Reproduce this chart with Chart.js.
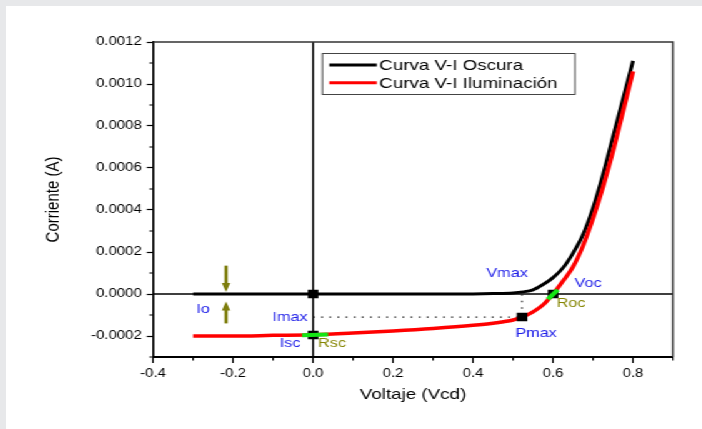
<!DOCTYPE html>
<html>
<head>
<meta charset="utf-8">
<script src="https://cdn.jsdelivr.net/npm/chart.js@4"></script>
<style>
  html, body { margin: 0; padding: 0; background: #e7e8ea; overflow: hidden; }
  #wrap { position: absolute; left: 6px; top: 6px; width: 557px; height: 423px;
          transform: scaleX(1.25); transform-origin: 0 0; background: #fff; }
</style>
</head>
<body>
<div id="wrap"><canvas id="chart" width="557" height="423"></canvas></div>
<script>
// curvas V-I (voltaje en V, corriente en A)
var voltage      = [-0.3, -0.2, -0.1, 0.0, 0.1, 0.2, 0.3, 0.4, 0.45, 0.5, 0.525, 0.55, 0.575, 0.6, 0.625, 0.65, 0.675, 0.7, 0.725, 0.75, 0.775, 0.8];
var darkCurrent  = [0, 0, 0, 0, 0, 0, 0, 0.0000005, 0.000002, 0.000005, 0.00001, 0.00002, 0.000045, 0.000078, 0.000125, 0.000195, 0.000283, 0.00041, 0.00057, 0.00075, 0.00093, 0.00111];
var lightCurrent = [-0.0002, -0.0002, -0.000197, -0.000194, -0.000186, -0.000176, -0.000164, -0.000149, -0.000139, -0.000124, -0.000108, -0.000085, -0.000052, 0, 0.000062, 0.00013, 0.00023, 0.00036, 0.00051, 0.00068, 0.00087, 0.00106];

// puntos caracteristicos: origen, Isc, Pmax, Voc
var keyVoltage = [0, 0, 0.5225, 0.6];
var keyCurrent = [0, -0.000195, -0.00011, 0];

// tramos verdes (resistencias)
var rscVoltage = [-0.0275, 0.0375];
var rscCurrent = [-0.000196, -0.000193];
var rocVoltage = [0.587, 0.612];
var rocCurrent = [-0.000025, 0.00002];

// linea punteada Imax / Vmax
var imaxVoltage = [0, 0.5225, 0.5225];
var imaxCurrent = [-0.00011, -0.00011, 0];

// etiquetas
var noteText    = ['Vmax', 'Voc', 'Pmax', 'Roc', 'Io', 'Imax', 'Isc', 'Rsc'];
var noteVoltage = [0.485, 0.6875, 0.5575, 0.645, -0.275, -0.0575, -0.0575, 0.0475];
var noteCurrent = [0.0001, 0.0000524, -0.000186, -0.000043, -0.0000714, -0.00011, -0.000233, -0.000233];
var noteColor   = ['#1f1fe8', '#1f1fe8', '#1f1fe8', '#858500', '#1f1fe8', '#1f1fe8', '#1f1fe8', '#858500'];

// flechas Io
var arrowVoltage = -0.2175;
var arrowFrom = [0.000135, -0.00014];
var arrowTo   = [0.00001, -0.000036];

var xTickValues = [-0.4, -0.2, 0.0, 0.2, 0.4, 0.6, 0.8];
var yTickValues = [-0.0002, 0.0, 0.0002, 0.0004, 0.0006, 0.0008, 0.0010, 0.0012];

var FONT = "'Liberation Sans', Arial, sans-serif";

function pts(xs, ys) {
  return xs.map(function (x, i) { return { x: x, y: ys[i] }; });
}

var extras = {
  id: 'extras',
  beforeDatasetsDraw: function (chart) {
    var ctx = chart.ctx, a = chart.chartArea;
    var xs = chart.scales.x, ys = chart.scales.y;
    ctx.save();
    ctx.strokeStyle = '#000';
    ctx.lineWidth = 1.4;
    var x0 = xs.getPixelForValue(0), y0 = ys.getPixelForValue(0);
    ctx.beginPath();
    ctx.moveTo(x0, a.top); ctx.lineTo(x0, a.bottom);
    ctx.moveTo(a.left, y0); ctx.lineTo(a.right, y0);
    ctx.stroke();
    ctx.restore();
  },
  afterDatasetsDraw: function (chart) {
    var ctx = chart.ctx, a = chart.chartArea;
    var xs = chart.scales.x, ys = chart.scales.y;
    ctx.save();

    // marco superior y derecho
    ctx.strokeStyle = '#333';
    ctx.lineWidth = 1.6;
    ctx.beginPath();
    ctx.moveTo(a.left, a.top); ctx.lineTo(a.right, a.top); ctx.lineTo(a.right, a.bottom);
    ctx.stroke();

    // ticks menores
    ctx.strokeStyle = '#000';
    ctx.lineWidth = 1.2;
    ctx.beginPath();
    var xStep = xTickValues[1] - xTickValues[0];
    xTickValues.forEach(function (v) {
      var m = v + xStep / 2;
      if (m <= xs.max + 1e-9) {
        var px = xs.getPixelForValue(m);
        ctx.moveTo(px, a.bottom); ctx.lineTo(px, a.bottom + 3.5);
      }
    });
    var yStep = yTickValues[1] - yTickValues[0];
    [yTickValues[0] - yStep / 2].concat(yTickValues.map(function (v) { return v + yStep / 2; }))
      .forEach(function (m) {
        if (m >= ys.min - 1e-12 && m <= ys.max + 1e-12) {
          var py = ys.getPixelForValue(m);
          ctx.moveTo(a.left, py); ctx.lineTo(a.left - 3, py);
        }
      });
    ctx.stroke();

    // flechas
    ctx.strokeStyle = '#7d7d0c';
    ctx.fillStyle = '#7d7d0c';
    var ax = xs.getPixelForValue(arrowVoltage);
    arrowFrom.forEach(function (f, i) {
      var y1 = ys.getPixelForValue(f), y2 = ys.getPixelForValue(arrowTo[i]);
      var dir = y2 > y1 ? 1 : -1;
      ctx.lineWidth = 2.6;
      ctx.beginPath();
      ctx.moveTo(ax, y1); ctx.lineTo(ax, y2 - dir * 8);
      ctx.stroke();
      ctx.beginPath();
      ctx.moveTo(ax - 3.4, y2 - dir * 9);
      ctx.lineTo(ax + 3.4, y2 - dir * 9);
      ctx.lineTo(ax, y2);
      ctx.closePath();
      ctx.fill();
    });

    // etiquetas
    ctx.font = '13px ' + FONT;
    ctx.textAlign = 'center';
    ctx.textBaseline = 'middle';
    noteText.forEach(function (t, i) {
      ctx.fillStyle = noteColor[i];
      ctx.fillText(t, xs.getPixelForValue(noteVoltage[i]), ys.getPixelForValue(noteCurrent[i]));
    });

    // leyenda
    var lx = a.left + 135, ly = a.top + 11, lw = 202, lh = 41;
    ctx.fillStyle = '#fff';
    ctx.fillRect(lx, ly, lw, lh);
    ctx.strokeStyle = '#444';
    ctx.lineWidth = 1;
    ctx.strokeRect(lx + 0.5, ly + 0.5, lw, lh);
    ctx.font = '15px ' + FONT;
    ctx.textAlign = 'left';
    chart.data.datasets.forEach(function (ds) {
      if (ds.legendRow === undefined) return;
      var ry = ly + 12 + ds.legendRow * 17.7;
      ctx.strokeStyle = ds.borderColor;
      ctx.lineWidth = 3;
      ctx.beginPath();
      ctx.moveTo(lx + 6, ry); ctx.lineTo(lx + 44, ry);
      ctx.stroke();
      ctx.fillStyle = '#000';
      ctx.fillText(ds.label, lx + 46, ry + 1);
    });
    ctx.restore();
  }
};

new Chart(document.getElementById('chart'), {
  type: 'line',
  data: {
    datasets: [
      { label: 'Rsc', data: pts(rscVoltage, rscCurrent), borderColor: '#14e614', borderWidth: 4, pointRadius: 0 },
      { label: 'Roc', data: pts(rocVoltage, rocCurrent), borderColor: '#14e614', borderWidth: 4, pointRadius: 0 },
      { label: 'puntos', data: pts(keyVoltage, keyCurrent), showLine: false, pointStyle: 'rect',
        pointRadius: 6, pointBackgroundColor: '#000', pointBorderWidth: 0 },
      { label: 'Curva V-I Iluminaci\u00f3n', legendRow: 1, data: pts(voltage, lightCurrent),
        borderColor: '#ff0000', borderWidth: 3.5, pointRadius: 0, cubicInterpolationMode: 'monotone' },
      { label: 'Curva V-I Oscura', legendRow: 0, data: pts(voltage, darkCurrent),
        borderColor: '#000000', borderWidth: 3, pointRadius: 0, cubicInterpolationMode: 'monotone' },
      { label: 'Imax', data: pts(imaxVoltage, imaxCurrent), borderColor: '#222', borderWidth: 1.2,
        borderDash: [1.5, 5], pointRadius: 0 }
    ]
  },
  options: {
    responsive: false,
    animation: false,
    devicePixelRatio: 1,
    layout: { padding: { top: 36, right: 23.4, left: 0, bottom: 0 } },
    plugins: { legend: { display: false }, tooltip: { enabled: false } },
    scales: {
      x: {
        type: 'linear', min: -0.4, max: 0.9,
        afterFit: function (s) { s.height = 72; },
        afterBuildTicks: function (s) { s.ticks = xTickValues.map(function (v) { return { value: v }; }); },
        border: { display: true, color: '#000', width: 2 },
        grid: { drawOnChartArea: false, drawTicks: true, tickLength: 6, tickColor: '#000', tickWidth: 1.2 },
        ticks: { padding: 3, color: '#000', font: { family: FONT, size: 12 },
          callback: function (v) { return Number(v).toFixed(1); } },
        title: { display: true, text: 'Voltaje (Vcd)', color: '#000',
          font: { family: FONT, size: 15 }, padding: { top: 0, bottom: 25 } }
      },
      y: {
        type: 'linear', min: -0.0003, max: 0.0012,
        afterFit: function (s) { s.width = 117.6; },
        afterBuildTicks: function (s) { s.ticks = yTickValues.map(function (v) { return { value: v }; }); },
        border: { display: true, color: '#000', width: 1.6 },
        grid: { drawOnChartArea: false, drawTicks: true, tickLength: 5, tickColor: '#000', tickWidth: 1.2 },
        ticks: { padding: 4, color: '#000', font: { family: FONT, size: 12 },
          callback: function (v) { return Math.abs(v) < 1e-9 ? '0.0000' : Number(v).toFixed(4); } },
        title: { display: true, text: 'Corriente (A)', color: '#000',
          font: { family: FONT, size: 15 }, padding: { top: 28.6, bottom: 0 } }
      }
    }
  },
  plugins: [extras]
});
</script>
</body>
</html>
